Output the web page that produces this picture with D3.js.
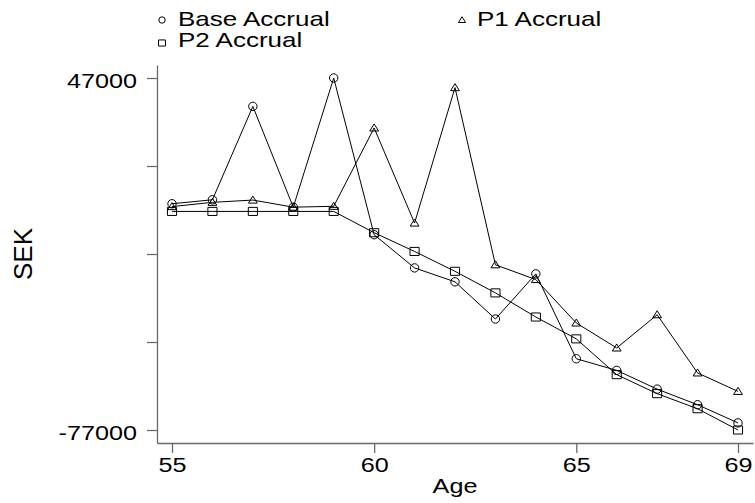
<!DOCTYPE html>
<html>
<head>
<meta charset="utf-8">
<script src="https://cdn.jsdelivr.net/npm/d3@7"></script>
<style>
  html, body { margin: 0; padding: 0; background: #fff; }
  svg { display: block; }
  text { font-family: "Liberation Sans", Arial, Helvetica, sans-serif; fill: #000; }
</style>
</head>
<body>
<svg id="chart" width="755" height="503"></svg>
<script>
// ---- data ----
const ages = [55, 56, 57, 58, 59, 60, 61, 62, 63, 64, 65, 66, 67, 68, 69];
const baseAccrual = [2700, 4100, 37000, 1500, 47000, -8200, -19900, -24800, -37900, -22000, -51900, -56000, -62600, -68100, -74500];
const p1Accrual = [1700, 3200, 4000, 1500, 1800, 29400, -4100, 43600, -18800, -24000, -39300, -48100, -36400, -56900, -63400];
const p2Accrual = [0, 0, 0, 0, 0, -7500, -14100, -21100, -28700, -37200, -44900, -57500, -64200, -69500, -77000];
const seriesNames = ["Base Accrual", "P1 Accrual", "P2 Accrual"];
const xTicks = [55, 60, 65, 69];
const yTicks = [-77000, -46000, -15000, 16000, 47000];
const yTickLabels = ["-77000", "", "", "", "47000"];
const xTitle = "Age";
const yTitle = "SEK";

// ---- layout ----
const W = 755, H = 503;
const plotLeft = 157, plotRight = 753, plotTop = 65, plotBottom = 443;
const svg = d3.select("#chart");

const yMin = d3.min(yTicks), yMax = d3.max(yTicks);
const yPad = (yMax - yMin) * 13 / 352;
const xPad = (d3.max(ages) - d3.min(ages)) * 15 / 566;

const x = d3.scaleLinear().domain([d3.min(ages) - xPad, d3.max(ages) + xPad]).range([plotLeft, plotRight]);
const y = d3.scaleLinear().domain([yMin - yPad, yMax + yPad]).range([plotBottom, plotTop]);

const axisColor = "#6a6a6a";
const sx = 1.2; // horizontal text stretch

// y axis
const gy = svg.append("g").attr("transform", `translate(${plotLeft},0)`)
  .call(d3.axisLeft(y).tickValues(yTicks).tickSize(10).tickSizeOuter(0)
    .tickFormat((d, i) => yTickLabels[i]));
gy.select(".domain").attr("stroke", axisColor).attr("stroke-width", 1.3);
gy.selectAll(".tick line").attr("stroke", axisColor).attr("stroke-width", 1.3);
gy.selectAll(".tick text")
  .attr("font-size", 21).attr("fill", "#000")
  .attr("x", -20 / sx).attr("dy", "0.45em")
  .attr("transform", `scale(${sx},1)`);

// x axis
const gx = svg.append("g").attr("transform", `translate(0,${plotBottom})`)
  .call(d3.axisBottom(x).tickValues(xTicks).tickSize(10).tickSizeOuter(0).tickFormat(d3.format("d")));
gx.select(".domain").attr("stroke", axisColor).attr("stroke-width", 1.3);
gx.selectAll(".tick line").attr("stroke", axisColor).attr("stroke-width", 1.3);
gx.selectAll(".tick text")
  .attr("font-size", 21).attr("fill", "#000")
  .attr("y", 29).attr("dy", 0)
  .attr("transform", `scale(${sx},1)`);

// axis titles
svg.append("text")
  .attr("transform", `translate(${(plotLeft + plotRight) / 2},${plotBottom + 50.3}) scale(${sx},1)`)
  .attr("text-anchor", "middle").attr("font-size", 21).text(xTitle);
svg.append("text")
  .attr("transform", `translate(31.7,${(plotTop + plotBottom) / 2 + 0}) rotate(-90)`)
  .attr("text-anchor", "middle").attr("font-size", 26).text(yTitle);

// ---- markers ----
const markerPath = {
  circle: (r) => `M${-r},0a${r},${r} 0 1,0 ${2*r},0a${r},${r} 0 1,0 ${-2*r},0Z`,
  square: (s) => `M${-s*0.53},${-s*0.47}h${s*1.06}v${s*0.94}h${-s*1.06}Z`,
  triangle: (s) => `M0,${-s*0.5}L${s*0.55},${s*0.38}L${-s*0.55},${s*0.38}Z`
};

const series = [
  { name: seriesNames[0], values: baseAccrual, marker: "circle", size: 4.2 },
  { name: seriesNames[1], values: p1Accrual, marker: "triangle", size: 8 },
  { name: seriesNames[2], values: p2Accrual, marker: "square", size: 8.6 }
];

const line = d3.line().x(d => x(d[0])).y(d => y(d[1]));

series.forEach(s => {
  const pts = ages.map((a, i) => [a, s.values[i]]);
  svg.append("path").datum(pts)
    .attr("d", line).attr("fill", "none").attr("stroke", "#000").attr("stroke-width", 1);
  svg.append("g").selectAll("path").data(pts).join("path")
    .attr("transform", d => `translate(${x(d[0])},${y(d[1])})`)
    .attr("d", markerPath[s.marker](s.size))
    .attr("fill", "none").attr("stroke", "#000").attr("stroke-width", 1);
});

// ---- legend ----
const legendItems = [
  { s: series[0], mx: 162, my: 20, tx: 178, ty: 26, size: 3.2 },
  { s: series[1], mx: 462, my: 20, tx: 477, ty: 26, size: 6.5 },
  { s: series[2], mx: 162, my: 43, tx: 178, ty: 47, size: 6.5 }
];
legendItems.forEach(l => {
  svg.append("path")
    .attr("transform", `translate(${l.mx},${l.my})`)
    .attr("d", markerPath[l.s.marker](l.size))
    .attr("fill", "none").attr("stroke", "#000").attr("stroke-width", 1);
  svg.append("text")
    .attr("transform", `translate(${l.tx},${l.ty}) scale(1.3,1)`)
    .attr("font-size", 20).text(l.s.name);
});
</script>
</body>
</html>
